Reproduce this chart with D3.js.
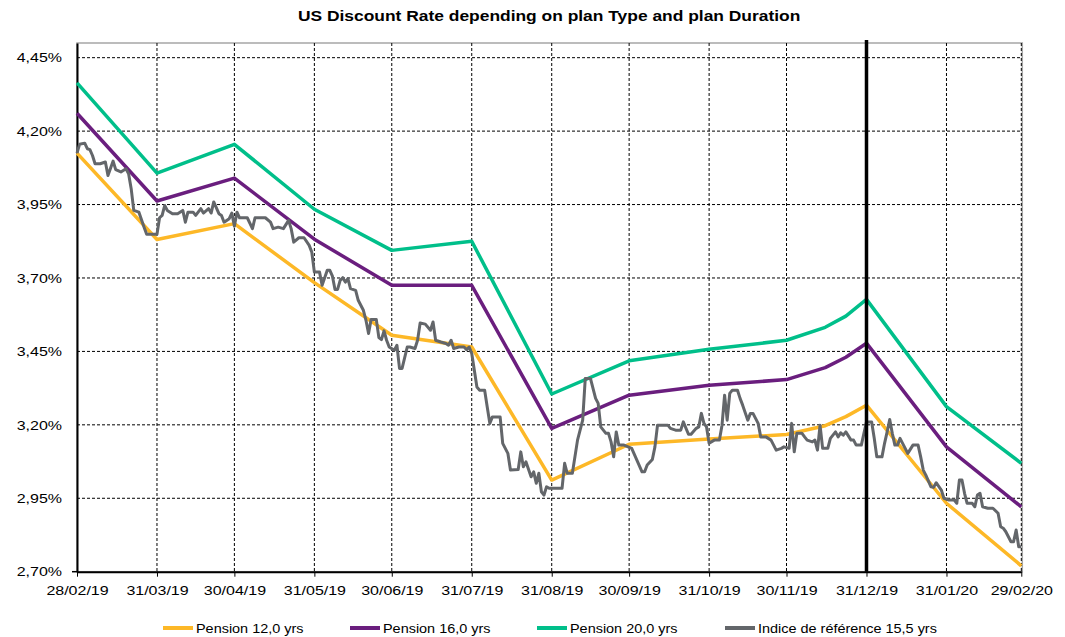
<!DOCTYPE html>
<html lang="en">
<head>
<meta charset="utf-8">
<title>US Discount Rate</title>
<script src="https://cdnjs.cloudflare.com/ajax/libs/d3/7.8.5/d3.min.js"></script>
<style>
    body { margin: 0; background: #fff; font-family: "Liberation Sans", Arial, sans-serif; }
    .grid line { stroke: #000; stroke-width: 1; stroke-dasharray: 3,2; }
</style>
</head>
<body>
<div id="chart"></div>
<script>
// month-end tick labels (x axis)
var tickLabels = ["28/02/19", "31/03/19", "30/04/19", "31/05/19", "30/06/19", "31/07/19", "31/08/19",
                  "30/09/19", "31/10/19", "30/11/19", "31/12/19", "31/01/20", "29/02/20"];
var rateTicks = [2.70, 2.95, 3.20, 3.45, 3.70, 3.95, 4.20, 4.45];

// pension curves, nodes mostly at month ends
var pensionDates = ["28/02/19", "31/03/19", "30/04/19", "31/05/19", "30/06/19", "31/07/19", "31/08/19",
                    "30/09/19", "31/10/19", "30/11/19", "15/12/19", "23/12/19", "31/12/19", "31/01/20", "29/02/20"];
var pension12 = [4.125, 3.831, 3.885, 3.684, 3.505, 3.465, 3.012, 3.134, 3.152, 3.167, 3.197, 3.228, 3.267, 2.933, 2.720];
var pension16 = [4.261, 3.962, 4.040, 3.832, 3.675, 3.675, 3.188, 3.301, 3.335, 3.354, 3.395, 3.430, 3.478, 3.125, 2.921];
var pension20 = [4.364, 4.057, 4.155, 3.934, 3.794, 3.825, 3.305, 3.418, 3.457, 3.488, 3.532, 3.570, 3.627, 3.262, 3.069];

// reference index, days after 28/02/19
var refDays = [0,1,3,4,5,6,7,9,11,12,14,15,17,19,20,21,22,24,26,27,31,32,33,34,35,37,39,41,42,43,45,46,48,49,51,52,53,55,56,57,
    59,60,61,62,63,66,68,69,73,75,76,78,80,82,83,84,86,88,90,91,92,94,95,97,98,99,100,101,102,103,104,105,106,108,109,111,112,113,114,116,
    117,118,119,120,121,123,124,125,126,128,129,131,132,133,135,137,138,139,141,143,144,145,146,148,150,151,152,153,154,155,156,158,159,160,
    161,164,165,167,168,171,172,173,174,176,177,178,179,180,181,182,183,188,189,190,192,194,196,197,199,201,202,203,205,206,207,208,209,210,
    212,215,217,219,220,221,223,224,225,229,230,232,234,235,237,238,240,241,242,243,244,245,247,249,250,251,252,253,254,256,257,258,260,261,
    262,264,265,267,269,270,271,273,274,276,277,278,279,281,282,283,285,286,287,288,289,291,292,294,295,296,297,298,300,301,302,304,305,306,
    308,309,310,312,313,314,315,316,317,318,319,320,322,324,326,327,328,329,331,332,333,335,336,338,340,341,342,343,344,345,347,348,349,350,
    351,353,355,357,358,359,360,362,363,364,365,366];
var refRates = [4.125,4.155,4.159,4.140,4.137,4.117,4.089,4.089,4.095,4.049,4.098,4.069,4.061,4.072,4.055,4.004,3.930,3.924,3.873,3.849,
    3.849,3.905,3.913,3.947,3.930,3.919,3.919,3.930,3.890,3.924,3.924,3.913,3.936,3.921,3.936,3.921,3.959,3.919,3.913,3.890,
    3.902,3.921,3.876,3.924,3.905,3.905,3.868,3.905,3.905,3.890,3.868,3.873,3.868,3.896,3.868,3.822,3.837,3.837,3.811,3.788,
    3.720,3.720,3.675,3.726,3.726,3.706,3.661,3.661,3.692,3.701,3.686,3.698,3.664,3.658,3.624,3.590,3.556,3.511,3.559,3.559,
    3.497,3.490,3.520,3.488,3.465,3.454,3.471,3.392,3.392,3.465,3.465,3.460,3.488,3.547,3.543,3.522,3.550,3.488,3.482,3.477,
    3.471,3.488,3.460,3.465,3.465,3.456,3.465,3.443,3.386,3.329,3.318,3.318,3.261,3.205,3.227,3.227,3.137,3.103,3.046,3.048,
    3.108,3.057,3.074,3.023,3.040,3.001,3.035,2.972,2.961,2.989,2.984,2.984,3.069,3.035,3.035,3.148,3.216,3.358,3.358,3.290,
    3.273,3.193,3.171,3.171,3.142,3.091,3.176,3.131,3.131,3.120,3.080,3.040,3.040,3.063,3.082,3.125,3.199,3.199,3.188,3.182,
    3.182,3.210,3.168,3.168,3.188,3.193,3.239,3.205,3.193,3.137,3.148,3.148,3.199,3.301,3.216,3.307,3.318,3.318,3.290,3.267,
    3.216,3.239,3.239,3.205,3.159,3.159,3.148,3.131,3.114,3.120,3.125,3.120,3.205,3.108,3.171,3.171,3.159,3.148,3.142,3.148,
    3.114,3.199,3.120,3.120,3.154,3.176,3.159,3.173,3.165,3.176,3.148,3.148,3.131,3.131,3.171,3.210,3.210,3.154,3.091,3.091,
    3.137,3.176,3.218,3.171,3.131,3.131,3.154,3.137,3.103,3.131,3.131,3.091,3.046,3.029,2.989,2.987,3.003,2.978,2.950,2.944,
    2.944,2.933,3.012,3.012,2.967,2.933,2.933,2.921,2.961,2.967,2.921,2.916,2.916,2.899,2.853,2.848,2.836,2.802,2.802,2.842,
    2.785,2.785];

var seriesNames = ["Pension 12,0 yrs", "Pension 16,0 yrs", "Pension 20,0 yrs", "Indice de référence 15,5 yrs"];
var colors = ["#FDB827", "#6A1E7E", "#00BF8A", "#63666A"];
var markerDate = "31/12/19";

var parse = d3.timeParse("%d/%m/%y");
var start = parse(tickLabels[0]);

var margin = {top: 43, left: 77},
    width = 944.3,
    height = 528.7;

var svg = d3.select("#chart").append("svg")
    .attr("width", 1065)
    .attr("height", 637);

var g = svg.append("g").attr("transform", "translate(" + margin.left + "," + margin.top + ")");

var x = d3.scaleTime()
    .domain([start, parse(tickLabels[tickLabels.length - 1])])
    .range([0, width]);
var y = d3.scaleLinear()
    .domain([2.70, 4.50])
    .range([height, 0]);

// stretch text a bit wider, like the original picture
function stretch(sel, k) {
    sel.each(function() {
        var w = this.getComputedTextLength();
        d3.select(this).attr("textLength", w * k).attr("lengthAdjust", "spacingAndGlyphs");
    });
}

// frame
g.append("rect")
    .attr("width", width + 1).attr("height", height)
    .attr("fill", "none").attr("stroke", "#a6a6a6").attr("stroke-width", 1.5);

// grid
g.append("g").attr("class", "grid")
    .selectAll("line").data(rateTicks.slice(1)).join("line")
    .attr("x1", 0).attr("x2", width)
    .attr("y1", d => y(d)).attr("y2", d => y(d));
g.append("g").attr("class", "grid")
    .selectAll("line").data(tickLabels.slice(1)).join("line")
    .attr("x1", d => x(parse(d))).attr("x2", d => x(parse(d)))
    .attr("y1", 0).attr("y2", height);

// axes
var xAxis = g.append("g")
    .attr("transform", "translate(0," + height + ")")
    .call(d3.axisBottom(x)
        .tickValues(tickLabels.map(parse))
        .tickFormat(d3.timeFormat("%d/%m/%y"))
        .tickSize(5).tickSizeOuter(0).tickPadding(9));
xAxis.select(".domain").attr("stroke", "#000").attr("stroke-width", 2);
xAxis.selectAll("text").style("font-size", "13px").attr("fill", "#000").call(stretch, 1.23);

var yAxis = g.append("g")
    .call(d3.axisLeft(y)
        .tickValues(rateTicks)
        .tickFormat(d => d3.format(".2f")(d).replace(".", ",") + "%")
        .tickSize(0).tickPadding(15));
yAxis.select(".domain").attr("stroke", "#000").attr("stroke-width", 2);
yAxis.selectAll("text").style("font-size", "13px").attr("fill", "#000").call(stretch, 1.23);
g.append("line").attr("x1", -5).attr("x2", 0).attr("y1", height).attr("y2", height)
    .attr("stroke", "#000").attr("stroke-width", 1.5);

// lines
var line = d3.line().x(d => x(d.date)).y(d => y(d.value));
var pensions = [pension12, pension16, pension20];
pensions.forEach(function(vals, i) {
    var pts = vals.map((v, j) => ({date: parse(pensionDates[j]), value: v}));
    g.append("path").datum(pts)
        .attr("fill", "none")
        .attr("stroke", colors[i])
        .attr("stroke-width", 3.5)
        .attr("stroke-linejoin", "round")
        .attr("d", line);
});
var refPts = refDays.map((d, j) => ({date: d3.timeDay.offset(start, d), value: refRates[j]}));
g.append("path").datum(refPts)
    .attr("fill", "none")
    .attr("stroke", colors[3])
    .attr("stroke-width", 3)
    .attr("stroke-linejoin", "round")
    .attr("d", line);

// year-end marker
g.append("line")
    .attr("x1", x(parse(markerDate))).attr("x2", x(parse(markerDate)))
    .attr("y1", -3).attr("y2", height)
    .attr("stroke", "#000").attr("stroke-width", 3.5);

// title
svg.append("text")
    .attr("x", margin.left + width / 2).attr("y", 21)
    .attr("text-anchor", "middle")
    .style("font-size", "15px").style("font-weight", "bold")
    .text("US Discount Rate depending on plan Type and plan Duration")
    .call(stretch, 1.16);

// legend
var legendX = [163, 350, 537, 725];
var legend = svg.selectAll(".legend").data(seriesNames).join("g")
    .attr("class", "legend")
    .attr("transform", (d, i) => "translate(" + legendX[i] + ",628)");
legend.append("line")
    .attr("x1", 0).attr("x2", 30)
    .attr("stroke", (d, i) => colors[i])
    .attr("stroke-width", 4);
legend.append("text")
    .attr("x", 33).attr("dy", "0.36em")
    .style("font-size", "13px")
    .text(d => d)
    .call(stretch, 1.11);
</script>
</body>
</html>
